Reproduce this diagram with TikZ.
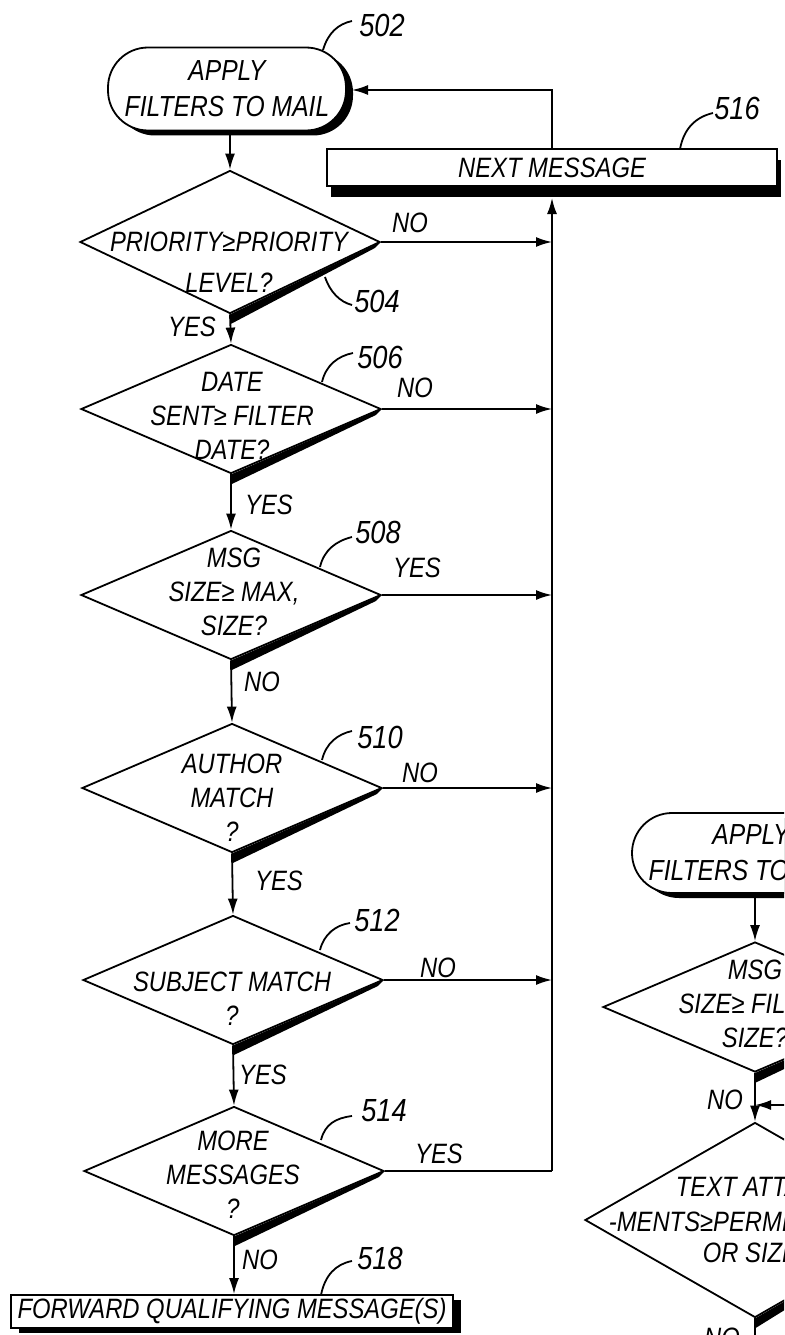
\documentclass[tikz,border=0pt]{standalone}
\usepackage{fontspec}
\newfontfamily\figfont{Liberation Sans}[FakeStretch=0.85]
\usetikzlibrary{shapes.geometric,shadows,arrows.meta}

\begin{document}
\begin{tikzpicture}[x=1pt,y=-1pt,line width=1.8pt,>={Latex[length=16pt,width=10pt]}]
        \tikzset{decision/.style = {shape=diamond,draw,fill=white,inner sep=0pt,minimum width=300pt,minimum height=129pt}}
        \tikzset{terminal/.style = {shape=rectangle,draw,fill=white,rounded corners=40pt,minimum width=238pt,minimum height=83pt,
            align=center,font=\figfont\itshape\fontsize{29}{36}\selectfont,
            drop shadow={shadow xshift=7pt,shadow yshift=-5pt,fill=black,opacity=1}}}
        \tikzset{process/.style = {shape=rectangle,draw,fill=white,inner sep=0pt,font=\figfont\itshape\fontsize{28}{34}\selectfont}}
        \tikzset{txt/.style = {inner sep=0pt,align=center,font=\figfont\itshape\fontsize{28}{34}\selectfont}}
        \tikzset{refnum/.style = {inner sep=0pt,font=\figfont\itshape\fontsize{32}{32}\selectfont}}
        % page
        \useasboundingbox (0,0) rectangle (784,1335);
        \clip (0,0) rectangle (784,1335);
        % left flow: start and decisions
        \node[terminal] (t502) at (227,89) {APPLY\\FILTERS TO MAIL};
        \node[decision,minimum height=143pt] (d504) at (230,242) {};
        \node[decision] (d506) at (231,409) {};
        \node[decision] (d508) at (231,595) {};
        \node[decision] (d510) at (232,788) {};
        \node[decision] (d512) at (233,980) {};
        \node[decision] (d514) at (234,1171) {};
        % texts in the decisions
        \node[txt] (q504) at (229,262) {PRIORITY≥PRIORITY\\[7pt]LEVEL?};
        \node[txt] (q506) at (232,416) {DATE\\SENT≥ FILTER\\DATE?};
        \node[txt] (q508) at (234,592) {MSG\\SIZE≥ MAX,\\SIZE?};
        \node[txt] (q510) at (232,798) {AUTHOR\\MATCH\\?};
        \node[txt] (q512) at (232,999) {SUBJECT MATCH\\?};
        \node[txt] (q514) at (233,1175) {MORE\\MESSAGES\\?};
        % heavy lower right edges
        \fill (d504.south) -- (d504.east) -- ([shift={(-6,6)}]d504.east) -- ([shift={(0,10)}]d504.south) -- cycle;
        \fill (d506.south) -- (d506.east) -- ([shift={(-6,6)}]d506.east) -- ([shift={(0,10)}]d506.south) -- cycle;
        \fill (d508.south) -- (d508.east) -- ([shift={(-6,6)}]d508.east) -- ([shift={(0,10)}]d508.south) -- cycle;
        \fill (d510.south) -- (d510.east) -- ([shift={(-6,6)}]d510.east) -- ([shift={(0,10)}]d510.south) -- cycle;
        \fill (d512.south) -- (d512.east) -- ([shift={(-6,6)}]d512.east) -- ([shift={(0,10)}]d512.south) -- cycle;
        \fill (d514.south) -- (d514.east) -- ([shift={(-6,6)}]d514.east) -- ([shift={(0,10)}]d514.south) -- cycle;
        % boxes
        \node[process,minimum width=450pt,minimum height=37pt,
            drop shadow={shadow xshift=4pt,shadow yshift=-11pt,fill=black,opacity=1}] (n516) at (552,167.5) {NEXT MESSAGE};
        \node[process,minimum width=442pt,minimum height=33pt,
            drop shadow={shadow xshift=8pt,shadow yshift=-5pt,fill=black,opacity=1}] (n518) at (232,1311.5) {FORWARD QUALIFYING MESSAGE(S)};
        % points on the return line
        \coordinate (j504) at (552,242);
        \coordinate (j506) at (552,409);
        \coordinate (j508) at (552,595);
        \coordinate (j510) at (552,788);
        \coordinate (j512) at (552,980);
        \coordinate (j514) at (552,1171);
        \coordinate (bus) at (552,198);
        \coordinate (t502in) at (352,90);
        % flow down
        \draw[->] (t502.south -| d504.north) -- (d504.north);
        \draw[->] (d504.south) -- (d506.north);
        \draw[->] (d506.south) -- (d508.north);
        \draw[->] (d508.south) -- (d510.north);
        \draw[->] (d510.south) -- (d512.north);
        \draw[->] (d512.south) -- (d514.north);
        \draw[->] (d514.south) -- (n518.north -| d514.south);
        % flow to next message
        \draw[->] (d504.east) -- (j504);
        \draw[->] (d506.east) -- (j506);
        \draw[->] (d508.east) -- (j508);
        \draw[->] (d510.east) -- (j510);
        \draw[->] (d512.east) -- (j512);
        \draw (d514.east) -- (j514);
        \draw[->] (j514) -- (bus);
        \draw[->] (n516.north) |- (t502in);
        % yes and no
        \node[txt] (no504) at (410,223) {NO};
        \node[txt] (yes504) at (192,327) {YES};
        \node[txt] (no506) at (415,388) {NO};
        \node[txt] (yes506) at (269,505) {YES};
        \node[txt] (yes508) at (417,568) {YES};
        \node[txt] (no508) at (262,682) {NO};
        \node[txt] (no510) at (420,773) {NO};
        \node[txt] (yes510) at (279,881) {YES};
        \node[txt] (no512) at (438,968) {NO};
        \node[txt] (yes512) at (263,1075) {YES};
        \node[txt] (yes514) at (439,1154) {YES};
        \node[txt] (no514) at (260,1260) {NO};
        % reference numbers
        \node[refnum] (r502) at (382,25) {502};
        \draw (323,50) .. controls (328,33) and (338,24) .. (352,21);
        \node[refnum] (r504) at (377,301) {504};
        \draw (325,277) .. controls (330,292) and (340,302) .. (352,305);
        \node[refnum] (r506) at (380,357) {506};
        \draw (322,382) .. controls (326,365) and (338,356) .. (353,353);
        \node[refnum] (r508) at (378,532) {508};
        \draw (320,567) .. controls (324,550) and (336,541) .. (352,537);
        \node[refnum] (r510) at (380,737) {510};
        \draw (322,760) .. controls (326,743) and (338,734) .. (352,731);
        \node[refnum] (r512) at (377,920) {512};
        \draw (320,950) .. controls (324,934) and (336,925) .. (350,923);
        \node[refnum] (r514) at (384,1111) {514};
        \draw (321,1140) .. controls (325,1124) and (336,1118) .. (352,1116);
        \node[refnum] (r516) at (737,108) {516};
        \draw (680,149) .. controls (684,128) and (696,117) .. (713,113);
        \node[refnum] (r518) at (380,1258) {518};
        \draw (321,1295) .. controls (325,1275) and (336,1264) .. (352,1261);
        % second flow on the right
        \node[terminal,minimum height=80pt] (rapply) at (751,853) {APPLY\\FILTERS TO MAIL};
        \node[decision,minimum width=304pt,minimum height=130pt] (rsize) at (755,1007) {};
        \node[txt] (qrsize) at (755,1004) {MSG\\SIZE≥ FILTER\\SIZE?};
        \node[decision,minimum width=340pt,minimum height=195pt] (rtext) at (755,1220) {};
        \node[txt,anchor=west] (qrt1) at (675,1187) {TEXT ATTACH};
        \node[txt,anchor=west] (qrt2) at (608,1222) {-MENTS≥PERMITTED};
        \node[txt,anchor=west] (qrt3) at (702,1253) {OR SIZE?};
        \fill (rsize.south) -- (rsize.east) -- ([shift={(-6,6)}]rsize.east) -- ([shift={(0,10)}]rsize.south) -- cycle;
        \fill (rtext.south) -- (rtext.east) -- ([shift={(-6,6)}]rtext.east) -- ([shift={(0,10)}]rtext.south) -- cycle;
        \coordinate (rin) at (800,1105);
        \coordinate (rout) at (755,1345);
        \draw[->] (rapply.south -| rsize.north) -- (rsize.north);
        \draw[->] (rsize.south) -- (rtext.north);
        \draw[->] (rin) -- (rin -| rsize.south);
        \draw (rtext.south) -- (rout);
        \node[txt] (rno1) at (725,1100) {NO};
        \node[txt] (rno2) at (722,1338) {NO};
\end{tikzpicture}
\end{document}
